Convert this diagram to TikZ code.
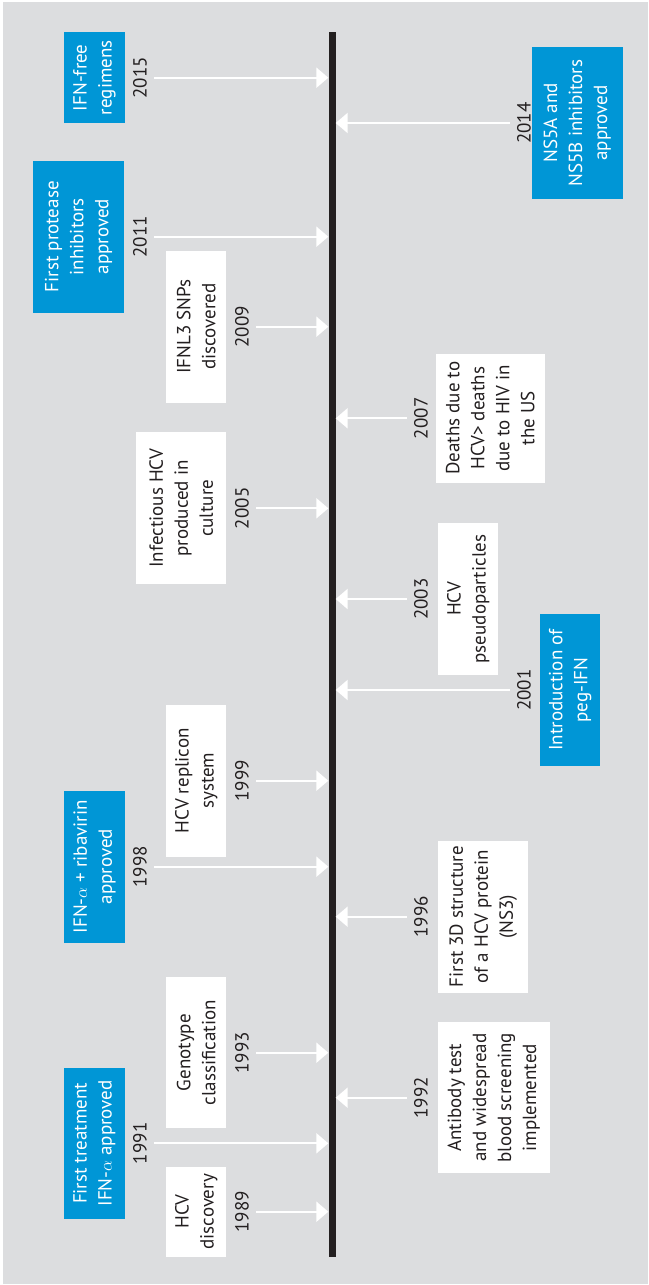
\documentclass[tikz,border=0pt]{standalone}
\usepackage{fontspec}
\setmainfont{PT Sans}
\usetikzlibrary{arrows.meta,positioning}
\definecolor{hcvblue}{RGB}{0,150,214}
\definecolor{panelgray}{RGB}{220,221,223}
\definecolor{ink}{RGB}{35,31,32}

\begin{document}
\begin{tikzpicture}[
    x=1pt, y=-1pt,
    font=\fontsize{19}{25}\selectfont,
    bluebox/.style={
        fill=hcvblue,
        text=white,
        rotate=90,
        inner sep=0pt,
        align=center
    },
    whitebox/.style={
        fill=white,
        text=ink,
        rotate=90,
        inner sep=0pt,
        align=center
    },
    yearlbl/.style={
        text=ink,
        rotate=90,
        inner xsep=0pt,
        inner ysep=7pt
    },
    arr/.style={-{Triangle[length=12pt,width=20pt]}, white, line width=2.3pt}
]

\useasboundingbox (0,0) rectangle (648,1285);
\fill[panelgray] (3,2) rectangle (648,1284);

% time axis
\node[fill=ink, minimum width=7pt, minimum height=1224.4pt, inner sep=0pt] (bar) at (332,644.5) {};

% left side: boxes
\node[bluebox, minimum width=90.7pt, minimum height=60.8pt] (b2015) at (94.4,77.7) {IFN-free\\regimens};
\node[bluebox, minimum width=151.7pt, minimum height=91pt] (b2011) at (78.5,236.7) {First protease\\inhibitors\\approved};
\node[whitebox, minimum width=151.7pt, minimum height=60.4pt] (b2009) at (196.2,326.7) {IFNL3 SNPs\\discovered};
\node[whitebox, minimum width=151.7pt, minimum height=90.4pt] (b2005) at (181.2,508.3) {Infectious HCV\\produced in\\culture};
\node[whitebox, minimum width=151.7pt, minimum height=60.4pt] (b1999) at (196.2,780.7) {HCV replicon\\system};
\node[bluebox, minimum width=151.7pt, minimum height=60.8pt] (b1998) at (94.4,866.7) {IFN-$\alpha$ + ribavirin\\approved};
\node[whitebox, minimum width=151.3pt, minimum height=60.4pt] (b1993) at (196.2,1052.7) {Genotype\\classification};
\node[bluebox, minimum width=151.3pt, minimum height=60.8pt] (b1991) at (94.4,1143.3) {First treatment\\IFN-$\alpha$ approved};
\node[whitebox, minimum width=90.3pt, minimum height=60.4pt] (b1989) at (196.2,1211.7) {HCV\\discovery};

% right side: boxes
\node[bluebox, minimum width=151.7pt, minimum height=90.9pt] (b2014) at (577.2,123) {NS5A and\\NS5B inhibitors\\approved};
\node[whitebox, minimum width=128.7pt, minimum height=108.6pt] (b2007) at (490.3,418.3) {Deaths due to\\HCV> deaths\\due to HIV in\\the US};
\node[whitebox, minimum width=151.7pt, minimum height=60.3pt] (b2003) at (468.2,599) {HCV\\pseudoparticles};
\node[bluebox, minimum width=151.7pt, minimum height=60.4pt] (b2001) at (570.2,690) {Introduction of\\peg-IFN};
\node[whitebox, minimum width=151.7pt, minimum height=90.5pt] (b1996) at (483.2,916.7) {First 3D structure\\of a HCV protein\\(NS3)};
\node[whitebox, minimum width=151.3pt, minimum height=111.6pt] (b1992) at (493.8,1097.7) {Antibody test\\and widespread\\blood screening\\implemented};

% years, left of the axis
\node[yearlbl, anchor=south] (y2015) at (154,77.7) {2015};
\node[yearlbl, anchor=south] (y2011) at (154,236.7) {2011};
\node[yearlbl, anchor=south] (y2009) at (256,326.7) {2009};
\node[yearlbl, anchor=south] (y2005) at (256,508.3) {2005};
\node[yearlbl, anchor=south] (y1999) at (256,780.7) {1999};
\node[yearlbl, anchor=south] (y1998) at (154,866.7) {1998};
\node[yearlbl, anchor=south] (y1993) at (256,1052.7) {1993};
\node[yearlbl, anchor=south] (y1991) at (154,1143.3) {1991};
\node[yearlbl, anchor=south] (y1989) at (256,1211.7) {1989};

% years, right of the axis
\node[yearlbl, anchor=north] (y2014) at (510,123) {2014};
\node[yearlbl, anchor=north] (y2007) at (407,418.3) {2007};
\node[yearlbl, anchor=north] (y2003) at (407,599) {2003};
\node[yearlbl, anchor=north] (y2001) at (510,690) {2001};
\node[yearlbl, anchor=north] (y1996) at (407,916.7) {1996};
\node[yearlbl, anchor=north] (y1992) at (407,1097.7) {1992};

% arrows onto the axis
\foreach \yr in {2015,2011,2009,2005,1999,1998,1993,1991,1989}
    \draw[arr] (y\yr.south) -- (y\yr.south -| bar.west);
\foreach \yr in {2014,2007,2003,2001,1996,1992}
    \draw[arr] (y\yr.north) -- (y\yr.north -| bar.east);

\end{tikzpicture}
\end{document}
